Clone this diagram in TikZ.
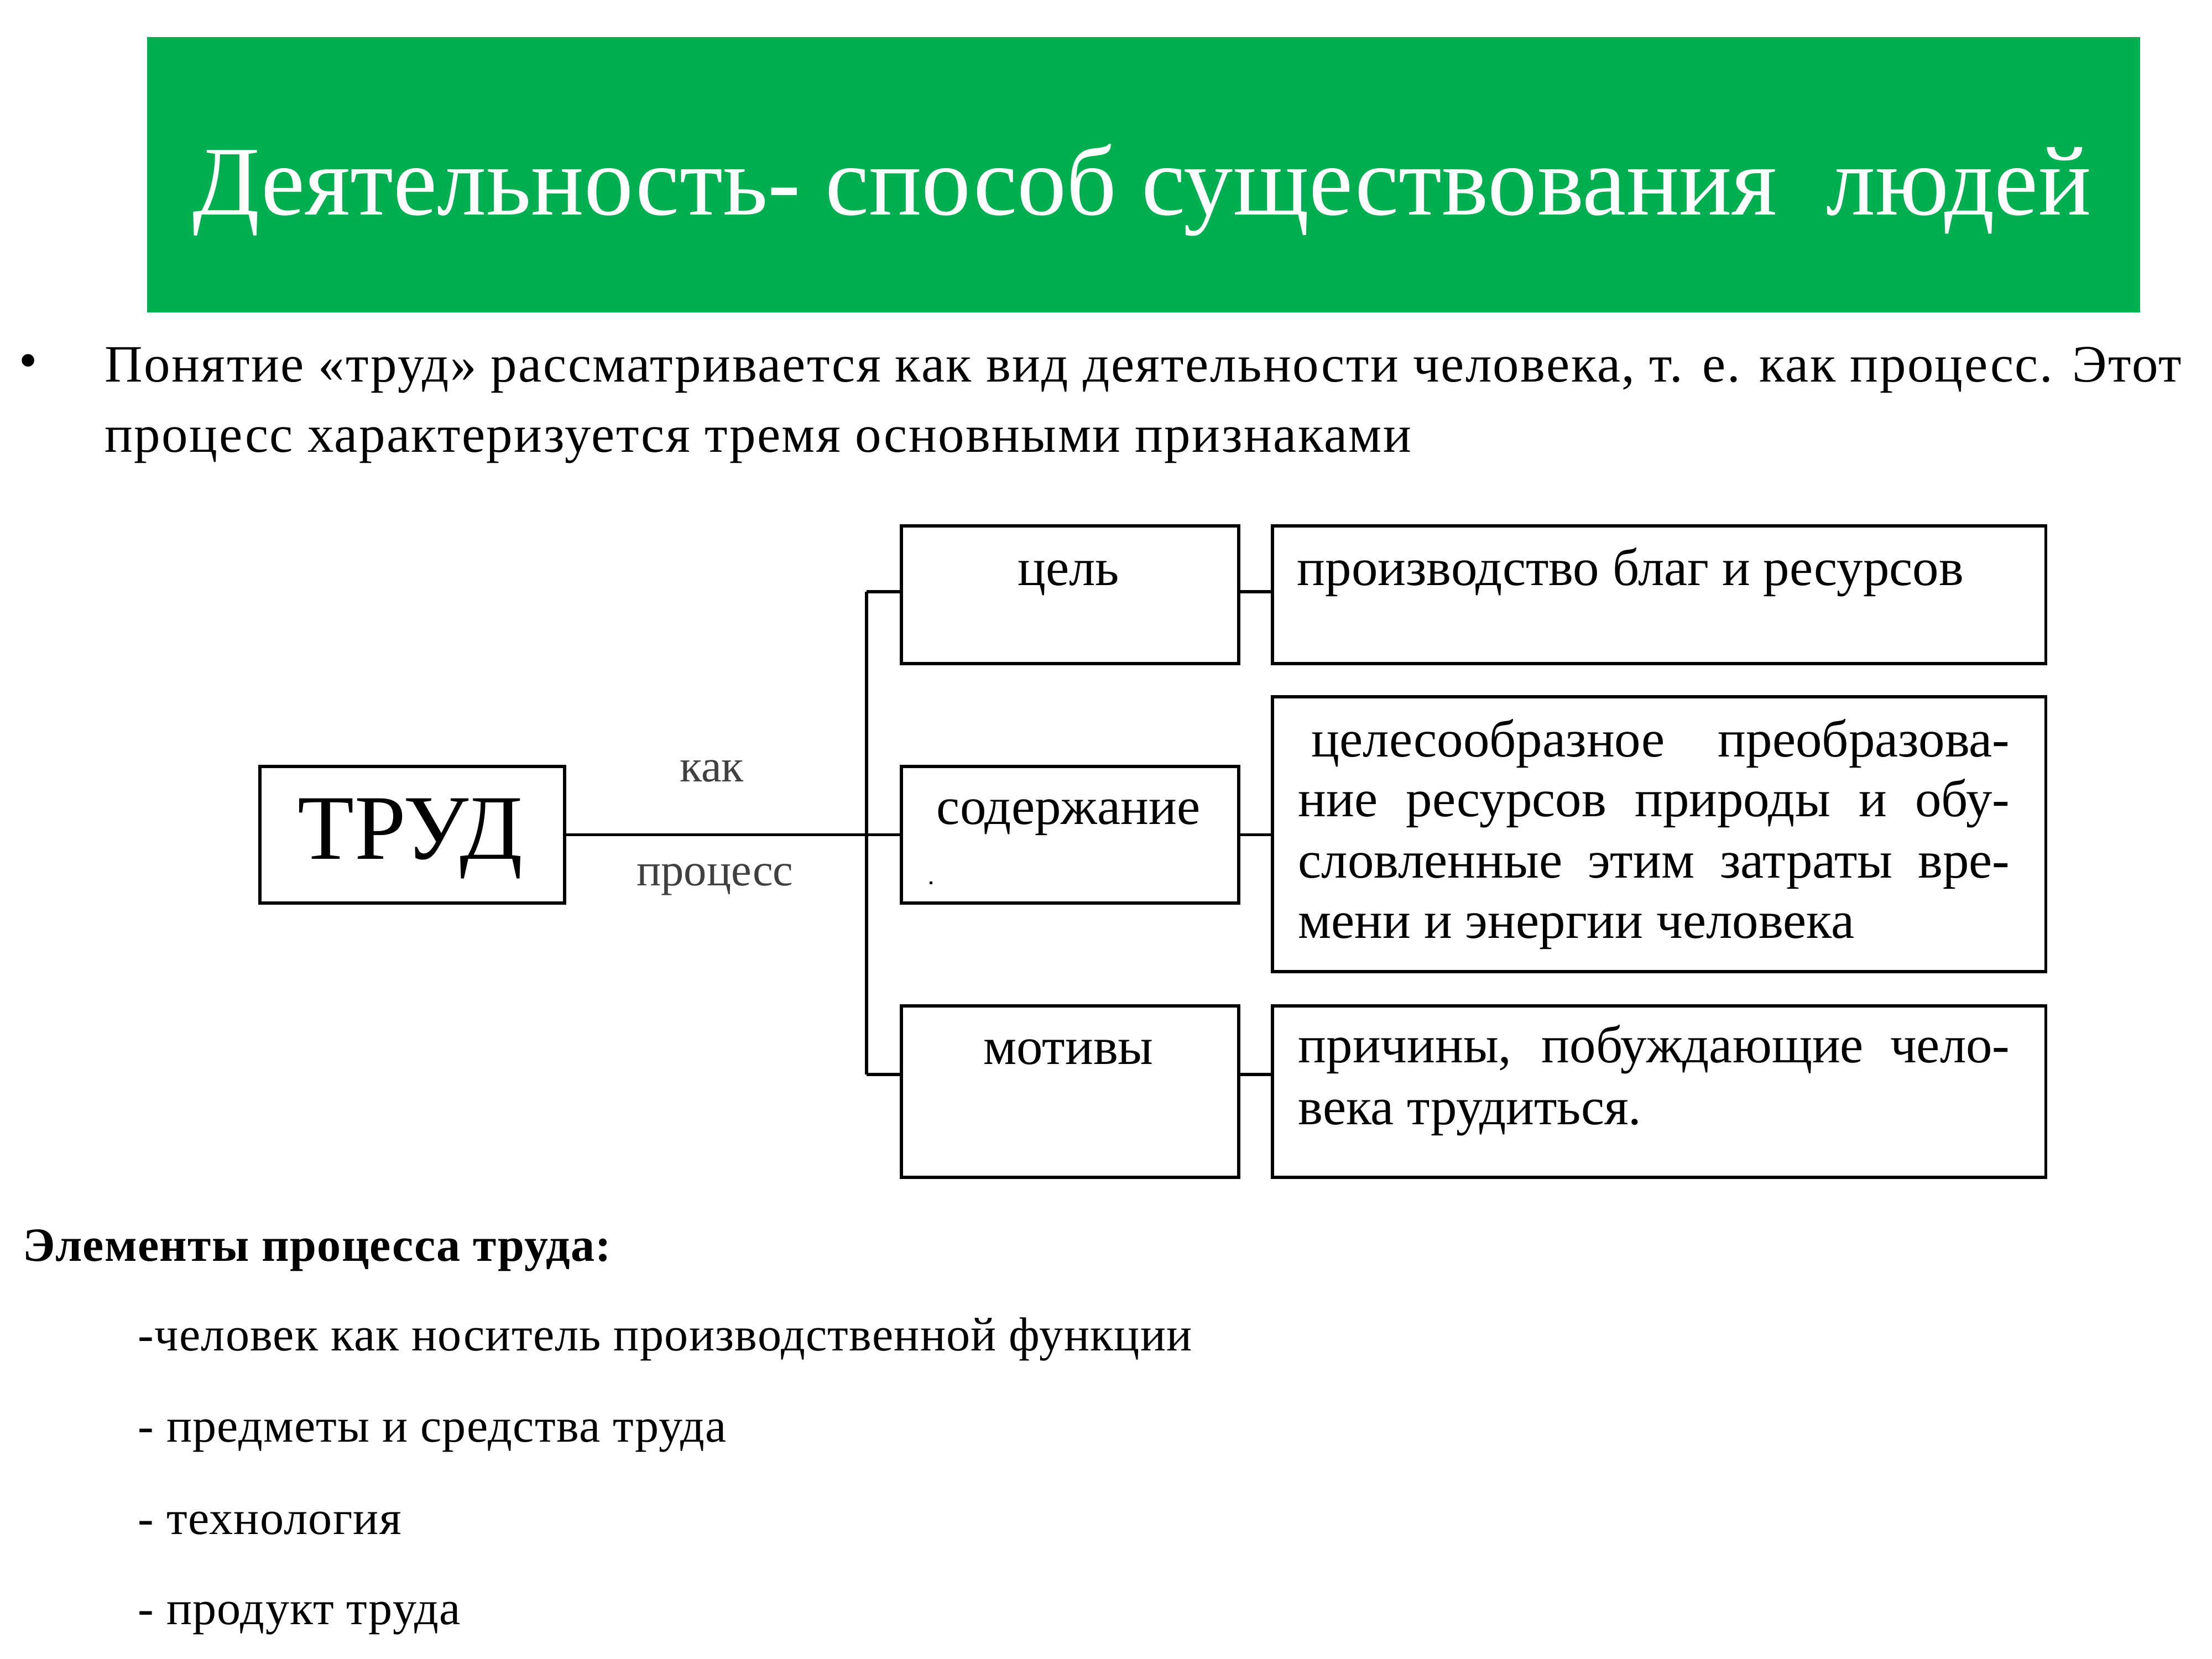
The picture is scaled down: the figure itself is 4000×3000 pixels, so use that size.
\documentclass[tikz,border=0pt]{standalone}
\usepackage{fontspec}
\setmainfont{Liberation Serif}
\newfontfamily\spacedserif[LetterSpace=2.6]{Liberation Serif}
\newfontfamily\elemserif[LetterSpace=1.5]{Liberation Serif}
\definecolor{titlegreen}{HTML}{00B050}
\definecolor{softtext}{HTML}{404040}
\begin{document}
\begin{tikzpicture}[x=0.01cm,y=-0.01cm,
 box/.style={draw, line width=1.6pt, inner sep=0, anchor=north west},
 lbl/.style={anchor=base west, inner sep=0},
 ctr/.style={anchor=base, inner sep=0},
 wire/.style={line width=1.5pt},
 dfont/.style={font=\fontsize{27}{30}\selectfont},
 bfont/.style={font=\spacedserif\fontsize{27}{30}\selectfont},
 efont/.style={font=\elemserif\fontsize{24.5}{28}\selectfont}]
\useasboundingbox (0,0) rectangle (4000,3000);
% title banner
\node[fill=titlegreen, inner sep=0, anchor=north west, minimum width=36.02cm, minimum height=4.98cm] (banner) at (265,66) {};
\node[lbl, text=white, font=\fontsize{50.7}{55}\selectfont] (title) at (348,388) {Деятельность- способ существования\ \ людей};
% bullet paragraph
\node[anchor=center, inner sep=0, font=\fontsize{27}{30}\selectfont] (bul) at (51,662) {•};
\node[lbl, bfont] (p1) at (189,690) {Понятие «труд» рассматривается как вид деятельности человека, т. е. как процесс. Этот};
\node[lbl, bfont] (p2) at (189,817) {процесс характеризуется тремя основными признаками};
% boxes
\node[box, minimum width=5.51cm, minimum height=2.47cm] (trud) at (467,1383) {};
\node[box, minimum width=6.10cm, minimum height=2.49cm] (cel) at (1627,948) {};
\node[box, minimum width=6.10cm, minimum height=2.47cm] (sod) at (1627,1383) {};
\node[box, minimum width=6.10cm, minimum height=3.10cm] (mot) at (1627,1816) {};
\node[box, minimum width=13.98cm, minimum height=2.49cm] (r1) at (2298,948) {};
\node[box, minimum width=13.98cm, minimum height=4.97cm] (r2) at (2298,1257) {};
\node[box, minimum width=13.98cm, minimum height=3.10cm] (r3) at (2298,1816) {};
% connectors
\coordinate (j1) at (1567,1070);
\coordinate (j2) at (trud.east -| j1);
\coordinate (j3) at (1567,1943);
\draw[wire] (j1) -- (j3);
\draw[wire] (trud.east) -- (j2);
\draw[wire] (j2) -- (j2 -| sod.west);
\draw[wire] (j1) -- (j1 -| cel.west);
\draw[wire] (j3) -- (j3 -| mot.west);
\draw[wire] (j1 -| cel.east) -- (j1 -| r1.west);
\draw[wire] (sod.east) -- (sod.east -| r2.west);
\draw[wire] (j3 -| mot.east) -- (j3 -| r3.west);
% labels
\node[ctr, font=\fontsize{47.5}{50}\selectfont] (trudt) at (742,1553) {ТРУД};
\node[ctr, text=softtext, font=\fontsize{23.5}{28}\selectfont] (kak) at (1287,1413) {как};
\node[ctr, text=softtext, font=\fontsize{23.5}{28}\selectfont] (proc) at (1293,1601) {процесс};
\node[ctr, dfont] (celt) at (1932,1058) {цель};
\node[ctr, dfont] (sodt) at (1932,1490) {содержание};
\fill (1681,1594) rectangle (1686,1599);
\node[ctr, dfont] (mott) at (1932,1924) {мотивы};
\node[lbl, dfont] (r1t) at (2345,1058) {производство благ и ресурсов};
\node[lbl, dfont] (r2a) at (2347,1368) {\makebox[12.86cm][s]{\ целесообразное\ \ \ \ преобразова-}};
\node[lbl, dfont] (r2b) at (2347,1476) {\makebox[12.86cm][s]{ние ресурсов природы и обу-}};
\node[lbl, dfont] (r2c) at (2347,1587) {\makebox[12.86cm][s]{словленные этим затраты вре-}};
\node[lbl, dfont] (r2d) at (2347,1696) {мени и энергии человека};
\node[lbl, dfont] (r3a) at (2347,1921) {\makebox[12.86cm][s]{причины, побуждающие чело-}};
\node[lbl, dfont] (r3b) at (2347,2033) {века трудиться.};
% elements
\node[lbl, font=\elemserif\fontsize{24.5}{28}\selectfont\bfseries] (el) at (41,2280) {Элементы процесса труда:};
\node[lbl, efont] (e1) at (249,2442) {-человек как носитель производственной функции};
\node[lbl, efont] (e2) at (249,2607) {- предметы и средства труда};
\node[lbl, efont] (e3) at (249,2774) {- технология};
\node[lbl, efont] (e4) at (249,2937) {- продукт труда};
\end{tikzpicture}
\end{document}
